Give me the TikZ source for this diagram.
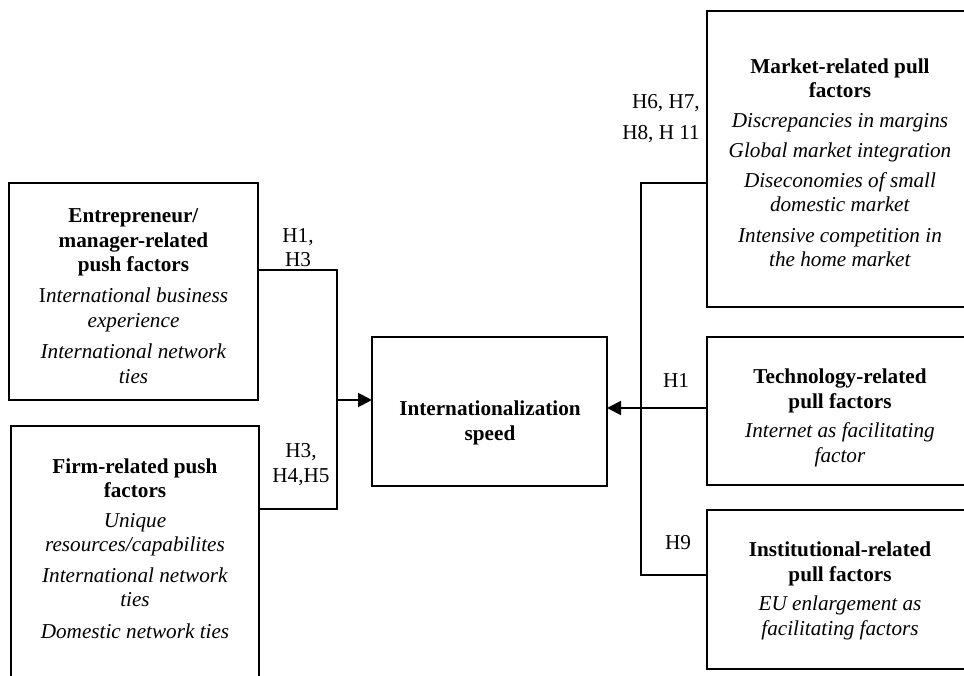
\documentclass[tikz,border=0pt]{standalone}
\usepackage{fontspec}
\setmainfont{Liberation Serif}
\usetikzlibrary{arrows.meta}
\begin{document}
\begin{tikzpicture}[x=1pt,y=-1pt,
  box/.style={draw,line width=1.9pt,rectangle,anchor=north west,inner sep=0pt,outer sep=0pt},
  txt/.style={align=center,inner sep=0pt,anchor=base,font=\fontsize{21.2}{24.5}\selectfont},
  conn/.style={line width=1.9pt},
  arr/.style={conn,-{Triangle[length=14pt,width=14pt]}}]
\useasboundingbox (0,0) rectangle (964,676);
\begin{scope}
\clip (0,0) rectangle (964,676);
\node[box,minimum width=249pt,minimum height=217pt] (ent) at (9,183) {};
\node[box,minimum width=248pt,minimum height=300pt] (firm) at (11,426) {};
\node[box,minimum width=235pt,minimum height=149pt] (speed) at (372,337) {};
\node[box,minimum width=266pt,minimum height=296pt] (mkt) at (707,11) {};
\node[box,minimum width=266pt,minimum height=148pt] (tech) at (707,337) {};
\node[box,minimum width=266pt,minimum height=159pt] (inst) at (707,510) {};
\end{scope}

% base anchor = baseline of the last line
\node[txt] (entT) at (133.5,383) {\textbf{Entrepreneur/}\\\textbf{manager-related}\\\textbf{push factors}\\[6.5pt]I\textit{nternational business}\\\textit{experience}\\[7pt]\textit{International network}\\\textit{ties}};
\node[txt] (firmT) at (135,638) {\textbf{Firm-related push}\\\textbf{factors}\\[5pt]\textit{Unique}\\\textit{resources/capabilites}\\[6pt]\textit{International network}\\\textit{ties}\\[7pt]\textit{Domestic network ties}};
\node[txt] (speedT) at (490,440) {\textbf{Internationalization}\\\textbf{speed}};
\node[txt] (mktT) at (840,267) {\textbf{Market-related pull}\\\textbf{factors}\\[5pt]\textit{Discrepancies in margins}\\[5.5pt]\textit{Global market integration}\\[5.5pt]\textit{Diseconomies of small}\\\textit{domestic market}\\[6pt]\textit{Intensive competition in}\\\textit{the home market}};
\node[txt] (techT) at (840,462) {\textbf{Technology-related}\\\textbf{pull factors}\\[5pt]\textit{Internet as facilitating}\\\textit{factor}};
\node[txt] (instT) at (840,635) {\textbf{Institutional-related}\\\textbf{pull factors}\\[5pt]\textit{EU enlargement as}\\\textit{facilitating factors}};

\node[txt] (l1) at (298,267) {H1,\\H3};
\node[txt] (l2) at (301,482) {H3,\\H4,H5};
\node[txt,align=right,anchor=base east] (l3) at (700,140) {H6, H7,\\[6.5pt]H8, H 11};
\node[txt] (l4) at (676,388) {H1};
\node[txt] (l5) at (678,549) {H9};

\coordinate (jl1) at (337,270);
\coordinate (jl2) at (337,509);
\coordinate (jl3) at (337,400);
\coordinate (jr1) at (641,183);
\coordinate (jr2) at (641,575);
\coordinate (jr3) at (641,408);
\draw[conn] (ent.east |- jl1) -- (jl1) -- (jl2) -- (firm.east |- jl2);
\draw[arr] (jl3) -- (speed.west |- jl3);
\draw[conn] (mkt.west |- jr1) -- (jr1) -- (jr2) -- (inst.west |- jr2);
\draw[arr] (tech.west |- jr3) -- (speed.east |- jr3);
\end{tikzpicture}
\end{document}
